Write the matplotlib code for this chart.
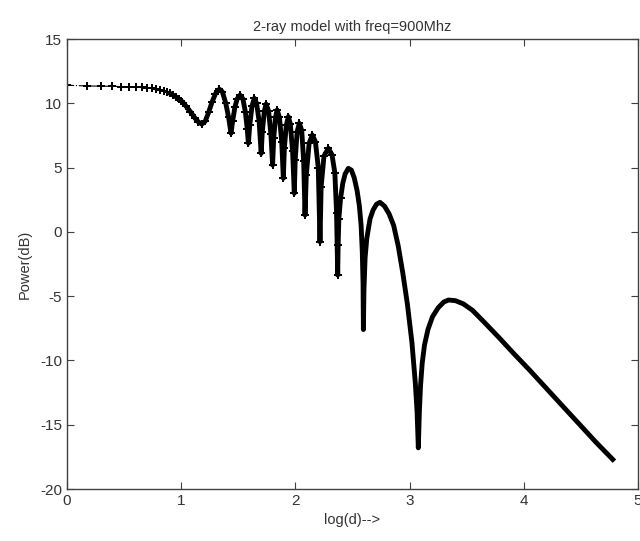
import matplotlib
matplotlib.use("Agg")
import matplotlib.pyplot as plt

plt.rcParams['font.family'] = ['Liberation Sans', 'DejaVu Sans']
plt.rcParams['axes.unicode_minus'] = False

# flat part, individual samples visible (d = 1, 1.5, 2, ... in log10)
flat_x = [0.0, 0.176, 0.301, 0.398, 0.477, 0.544, 0.602, 0.653, 0.699, 0.740,
          0.778, 0.813, 0.845, 0.875, 0.903]
flat_y = [11.40, 11.35, 11.33, 11.32, 11.30, 11.28, 11.26, 11.23, 11.20, 11.16,
          11.12, 11.06, 10.98, 10.88, 10.77]

# dense part (peaks, nulls and flanks)
dense_x = [0.903, 0.929, 0.954, 0.978, 1.0, 1.04, 1.08, 1.12, 1.15, 1.18,
           1.21, 1.24, 1.27, 1.30, 1.334, 1.36, 1.39, 1.415, 1.436,
           1.45, 1.47, 1.49, 1.515, 1.54, 1.562, 1.578, 1.588,
           1.60, 1.62, 1.64, 1.66, 1.682, 1.70,
           1.71, 1.728, 1.743, 1.765, 1.785, 1.80,
           1.81, 1.825, 1.84, 1.86, 1.88, 1.894,
           1.903, 1.92, 1.938, 1.955, 1.975, 1.99,
           1.998, 2.015, 2.034, 2.055, 2.072, 2.084,
           2.095, 2.12, 2.148, 2.175, 2.20, 2.215,
           2.225, 2.25, 2.288, 2.32, 2.345, 2.36, 2.37,
           2.374, 2.38, 2.395, 2.415, 2.435, 2.463, 2.49, 2.515, 2.54, 2.56,
           2.575, 2.585, 2.592, 2.595,
           2.60, 2.61, 2.625, 2.653, 2.68, 2.71, 2.74, 2.78, 2.82, 2.86,
           2.90, 2.94, 2.98, 3.02, 3.05, 3.065, 3.076,
           3.085, 3.095, 3.11, 3.13, 3.16, 3.20, 3.25, 3.30, 3.34, 3.40,
           3.47, 3.55, 3.65, 3.78, 3.91, 4.05, 4.20, 4.35, 4.49, 4.63, 4.778]
dense_y = [10.77, 10.64, 10.50, 10.35, 10.20, 9.80, 9.35, 8.85, 8.55, 8.38,
           8.60, 9.30, 10.10, 10.75, 11.10, 10.90, 10.00, 8.90, 7.67,
           8.60, 9.70, 10.35, 10.64, 10.35, 9.30, 8.00, 6.89,
           8.30, 9.80, 10.39, 10.00, 8.60, 6.10,
           7.80, 9.40, 9.94, 9.40, 7.60, 5.20,
           7.30, 8.90, 9.48, 8.90, 7.00, 4.17,
           6.50, 8.30, 8.96, 8.40, 6.30, 3.00,
           5.60, 7.80, 8.44, 7.90, 5.50, 1.31,
           4.40, 6.90, 7.53, 7.00, 5.00, -0.77,
           3.50, 5.90, 6.50, 6.00, 4.60, 1.50, -3.36,
           -1.00, 1.00, 2.60, 3.80, 4.50, 4.94, 4.80, 4.20, 3.20, 2.00,
           0.50, -1.50, -4.00, -7.60,
           -4.50, -2.00, -0.50, 1.00, 1.70, 2.15, 2.30, 2.00, 1.40, 0.50,
           -1.10, -3.20, -5.60, -8.60, -11.8, -14.0, -16.8,
           -14.0, -12.0, -10.2, -8.80, -7.60, -6.60, -5.90, -5.45, -5.30, -5.35,
           -5.60, -6.10, -7.00, -8.20, -9.45, -10.75, -12.2, -13.65, -15.0, -16.35, -17.7]

title = '2-ray model with freq=900Mhz'
x_label = 'log(d)-->'
y_label = 'Power(dB)'

fig = plt.figure(figsize=(6.4, 5.41), dpi=100)
ax = fig.add_axes([0.1047, 0.0961, 0.8923, 0.8318])

ax.plot(flat_x, flat_y, color='black', linestyle='-.', linewidth=0.8,
        marker='P', markersize=5.5, markeredgewidth=0)

# sparse-sample look only where the lobes are packed; far part is a plain thick line
dotted = [x < 2.4 for x in dense_x]
ax.plot(dense_x, dense_y, color='black', linestyle='-', linewidth=3.5,
        marker='P', markersize=5.5, markeredgewidth=0, markevery=dotted,
        solid_joinstyle='round')

ax.set_xlim(0, 5)
ax.set_ylim(-20, 15)
ax.set_xticks([0, 1, 2, 3, 4, 5])
ax.set_yticks([-20, -15, -10, -5, 0, 5, 10, 15])
ax.tick_params(direction='in', length=5, top=True, right=True,
               labelsize=11, colors='#404040', labelcolor='#333333')
for s in ax.spines.values():
    s.set_color('#404040')
    s.set_linewidth(1.0)

ax.set_title(title, fontsize=10.5, color='#333333', pad=6)
ax.set_xlabel(x_label, fontsize=10.5, color='#333333', labelpad=4)
ax.set_ylabel(y_label, fontsize=10.5, color='#333333', labelpad=6)

fig.savefig('out.png', dpi=100)
